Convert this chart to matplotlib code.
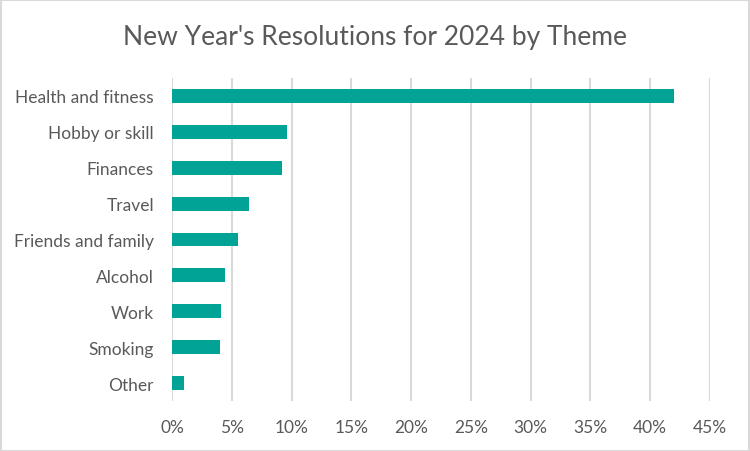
import matplotlib
matplotlib.use("Agg")
import matplotlib.pyplot as plt
from matplotlib.ticker import PercentFormatter, MultipleLocator
from matplotlib.patches import Rectangle

categories = ["Health and fitness", "Hobby or skill", "Finances", "Travel",
              "Friends and family", "Alcohol", "Work", "Smoking", "Other"]
values = [0.42, 0.096, 0.092, 0.064, 0.055, 0.044, 0.041, 0.040, 0.010]
title = "New Year's Resolutions for 2024 by Theme"

plt.rcParams['font.family'] = ['Lato', 'DejaVu Sans']
text_color = "#595959"
grid_color = "#D9D9D9"
bar_color = "#00A396"

fig = plt.figure(figsize=(7.5, 4.52), dpi=100)
ax = fig.add_axes([172/750, 1-402/452, (710-172)/750, (402-79)/452])

ypos = list(range(len(categories)))
ax.barh(ypos, values, height=0.39, color=bar_color, zorder=3)
ax.set_yticks(ypos)
ax.set_yticklabels(categories)
ax.set_ylim(len(categories)-0.5, -0.5)
ax.set_xlim(0, 0.45)
ax.xaxis.set_major_locator(MultipleLocator(0.05))
ax.xaxis.set_major_formatter(PercentFormatter(1.0, decimals=0))
ax.grid(axis='x', color=grid_color, linewidth=1.5, zorder=0)
for s in ax.spines.values():
    s.set_visible(False)
ax.tick_params(axis='both', length=0, labelsize=12.5, colors=text_color)
ax.tick_params(axis='y', pad=13)
ax.tick_params(axis='x', pad=13)

fig.text(0.5, 1-38/452, title, ha='center', va='center', fontsize=19, color=text_color)

fig.patches.append(Rectangle((0.5/750, 0.5/452), 1-1.5/750, 1-1.5/452, transform=fig.transFigure,
                             fill=False, edgecolor=grid_color, linewidth=1.5))

fig.savefig("out.png", dpi=100, facecolor="white")
